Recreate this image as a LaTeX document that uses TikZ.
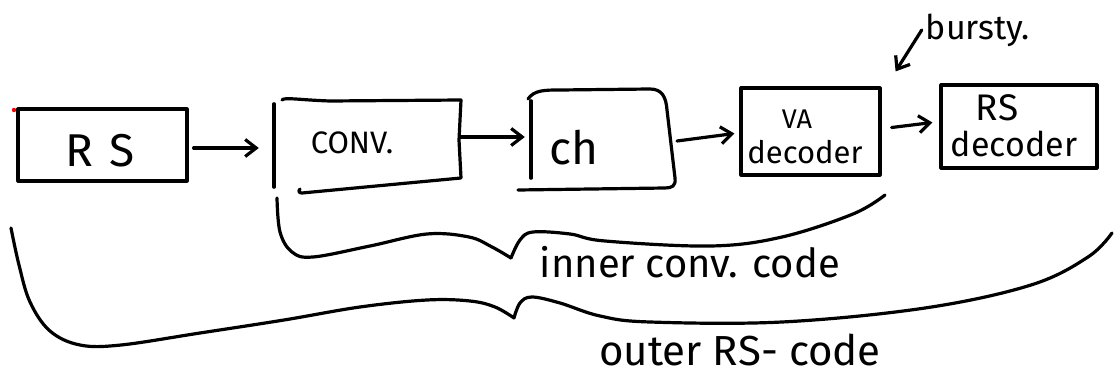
\documentclass[tikz,border=0pt]{standalone}
\usepackage{fontspec}
\setmainfont{Fira Sans}
\usetikzlibrary{arrows.meta}
\newcommand{\fs}[1]{\fontsize{#1}{#1}\selectfont}
\begin{document}
\begin{tikzpicture}[x=1pt,y=-1pt,
  ink/.style={line width=3.2pt, line cap=round, line join=round},
  arr/.style={ink, -{Straight Barb[length=11pt,width=17pt]}},
  box/.style={ink, draw, inner sep=0pt},
  bar/.style={inner sep=0pt, minimum width=0pt},
  lbl/.style={inner sep=0pt, align=center}]
\useasboundingbox (0,0) rectangle (1115,379);

% red mark
\fill[red] (14,110) circle (2.2pt);

% RS encoder box
\node[box, minimum width=169pt, minimum height=72pt] (rs) at (102.5,145) {};
\node[lbl, font=\fs{46}] (rstext) at (100,151) {R\,\,S};

% convolutional encoder (open bracket shape)
\node[bar, minimum height=83pt] (convbar) at (274,145.5) {};
\draw[ink] (convbar.north) -- (convbar.south);
\draw[ink] (282,100) .. controls (284,97) and (300,100) .. (330,101) -- (461,100) -- (459,140) -- (461,178) -- (302,193) .. controls (299,193) and (298,191) .. (300,189);
\node[lbl, font=\fs{31}] (conv) at (352,143) {CONV.};
\coordinate (convR) at (460,137);

% channel (open bracket shape)
\node[bar, minimum height=77pt] (chbar) at (531,139.5) {};
\draw[ink] (chbar.north) -- (chbar.south);
\draw[ink] (528,99) .. controls (534,90) and (545,90) .. (560,90) -- (650,89) .. controls (662,89) and (666,97) .. (667,110) -- (675,178) .. controls (676,186) and (672,188) .. (665,188) -- (518,190);
\node[lbl, font=\fs{46}] (ch) at (574,148) {ch};
\coordinate (chR) at (677,141);

% VA decoder
\node[box, minimum width=139pt, minimum height=87pt] (va) at (810.5,131.5) {};
\node[lbl, font=\fs{27}] (vatext) at (797,119) {VA};
\node[lbl, font=\fs{31}] (vadec) at (805,152) {decoder};

% RS decoder
\node[box, minimum width=156pt, minimum height=83pt] (rsd) at (1019,126.5) {};
\node[lbl, font=\fs{37}] (rsdtext) at (997,108) {RS};
\node[lbl, font=\fs{34}] (rsddec) at (1014,144) {decoder};

% bursty
\node[lbl, font=\fs{34}] (bursty) at (978,30) {bursty.};

% arrows
\draw[arr] ([shift={(5,3)}]rs.east) -- ([xshift=-15pt]convbar.west |- 0,148);
\draw[arr] (convR) -- ([xshift=-6pt]chbar.west |- convR);
\draw[arr] (chR) -- ([shift={(-5,2)}]va.west);
\draw[arr] ([shift={(10,-4)}]va.east) -- ([shift={(-7,-4)}]rsd.west);
\draw[arr] ([xshift=-4pt]bursty.west) -- ([shift={(14,-15)}]va.north east);

% inner brace
\draw[ink] plot[smooth, tension=0.6] coordinates {(277,198) (280,232) (292,252) (313,257) (370,246) (427,234) (469,237) (492,247) (511,258)};
\draw[ink] plot[smooth, tension=0.6] coordinates {(511,258) (520,240) (533,232) (570,234) (605,241) (711,246) (782,237) (853,214) (885,195)};
\node[lbl, font=\fs{40}] (inner) at (690,262) {inner conv. code};

% outer brace
\draw[ink] plot[smooth, tension=0.6] coordinates {(11,228) (19,265) (30,302) (50,331) (80,345) (121,345) (200,333) (284,320) (360,307) (427,300) (470,301) (495,307) (514,318)};
\draw[ink] plot[smooth, tension=0.6] coordinates {(514,318) (520,303) (532,297) (560,303) (600,316) (650,322) (782,322) (925,308) (1031,285) (1088,257) (1112,233)};
\node[lbl, font=\fs{42}] (outer) at (740,350) {outer RS- code};
\end{tikzpicture}
\end{document}
